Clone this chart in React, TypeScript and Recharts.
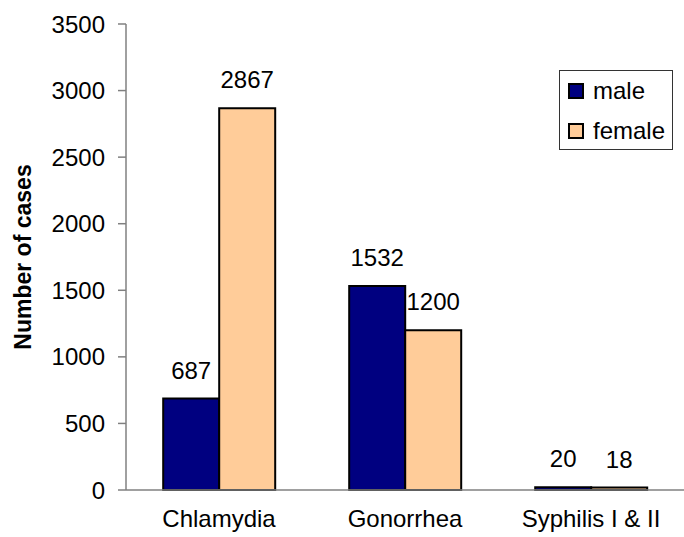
import React from 'react';
import { BarChart, Bar, XAxis, YAxis, LabelList } from 'recharts';

const categories = ['Chlamydia', 'Gonorrhea', 'Syphilis I & II'];
const maleCases = [687, 1532, 20];
const femaleCases = [2867, 1200, 18];
const yTicks = [0, 500, 1000, 1500, 2000, 2500, 3000, 3500];
const seriesNames = ['male', 'female'];
const seriesColors = ['#000080', '#FFCC99'];

const data = categories.map((name, i) => ({
  name,
  male: maleCases[i],
  female: femaleCases[i],
  slot: i + 0.5,
}));

const font = 'Arial, "Liberation Sans", sans-serif';

const LegendBox = () => (
  <div
    style={{
      position: 'absolute',
      left: 559,
      top: 70,
      width: 112,
      height: 78,
      border: '1.5px solid #333',
      background: '#fff',
      fontFamily: font,
      fontSize: 24,
      boxSizing: 'content-box',
    }}
  >
    {seriesNames.map((label, i) => (
      <div
        key={label}
        style={{
          position: 'absolute',
          left: 8,
          top: 6 + i * 40,
          height: 28,
          display: 'flex',
          alignItems: 'center',
        }}
      >
        <span
          style={{
            display: 'inline-block',
            width: 12,
            height: 12,
            background: seriesColors[i],
            border: '2px solid #000',
            marginRight: 9,
          }}
        />
        {label}
      </div>
    ))}
  </div>
);

const App: React.FC = () => {
  return (
    <div style={{ position: 'absolute', left: 0, top: 0, width: 684, height: 537, background: '#fff' }}>
      <BarChart
        width={684}
        height={537}
        data={data}
        margin={{ top: 24, right: 0, bottom: 0, left: 0 }}
        barCategoryGap="20%"
        barGap={0}
      >
        <XAxis
          xAxisId="a_frame"
          type="number"
          dataKey="slot"
          domain={[0, 3]}
          ticks={[0, 1, 2, 3]}
          tick={false}
          tickLine={{ stroke: '#808080', strokeWidth: 1.5 }}
          axisLine={{ stroke: '#808080', strokeWidth: 1.5 }}
          tickSize={8}
          height={8}
          allowDataOverflow
        />
        <XAxis
          xAxisId="b_cat"
          dataKey="name"
          axisLine={false}
          tickLine={false}
          tickSize={0}
          tickMargin={12}
          height={39}
          tick={{ fill: '#000', fontSize: 24, fontFamily: font }}
        />
        <YAxis
          domain={[0, 3500]}
          ticks={yTicks}
          width={126}
          tickSize={8}
          tickMargin={13}
          axisLine={{ stroke: '#808080', strokeWidth: 1.5 }}
          tickLine={{ stroke: '#808080', strokeWidth: 1.5 }}
          tick={{ fill: '#000', fontSize: 24, fontFamily: font }}
          label={{
            value: 'Number of cases',
            angle: -90,
            position: 'insideLeft',
            dx: 18,
            style: { fontWeight: 'bold', fontSize: 23, fontFamily: font, fill: '#000', textAnchor: 'middle' },
          }}
        />
        <Bar xAxisId="b_cat" dataKey="male" fill={seriesColors[0]} stroke="#000" strokeWidth={2} isAnimationActive={false}>
          <LabelList dataKey="male" position="top" offset={20} fill="#000" fontSize={24} fontFamily={font} />
        </Bar>
        <Bar xAxisId="b_cat" dataKey="female" fill={seriesColors[1]} stroke="#000" strokeWidth={2} isAnimationActive={false}>
          <LabelList dataKey="female" position="top" offset={20} fill="#000" fontSize={24} fontFamily={font} />
        </Bar>
      </BarChart>
      <LegendBox />
    </div>
  );
};

export default App;
